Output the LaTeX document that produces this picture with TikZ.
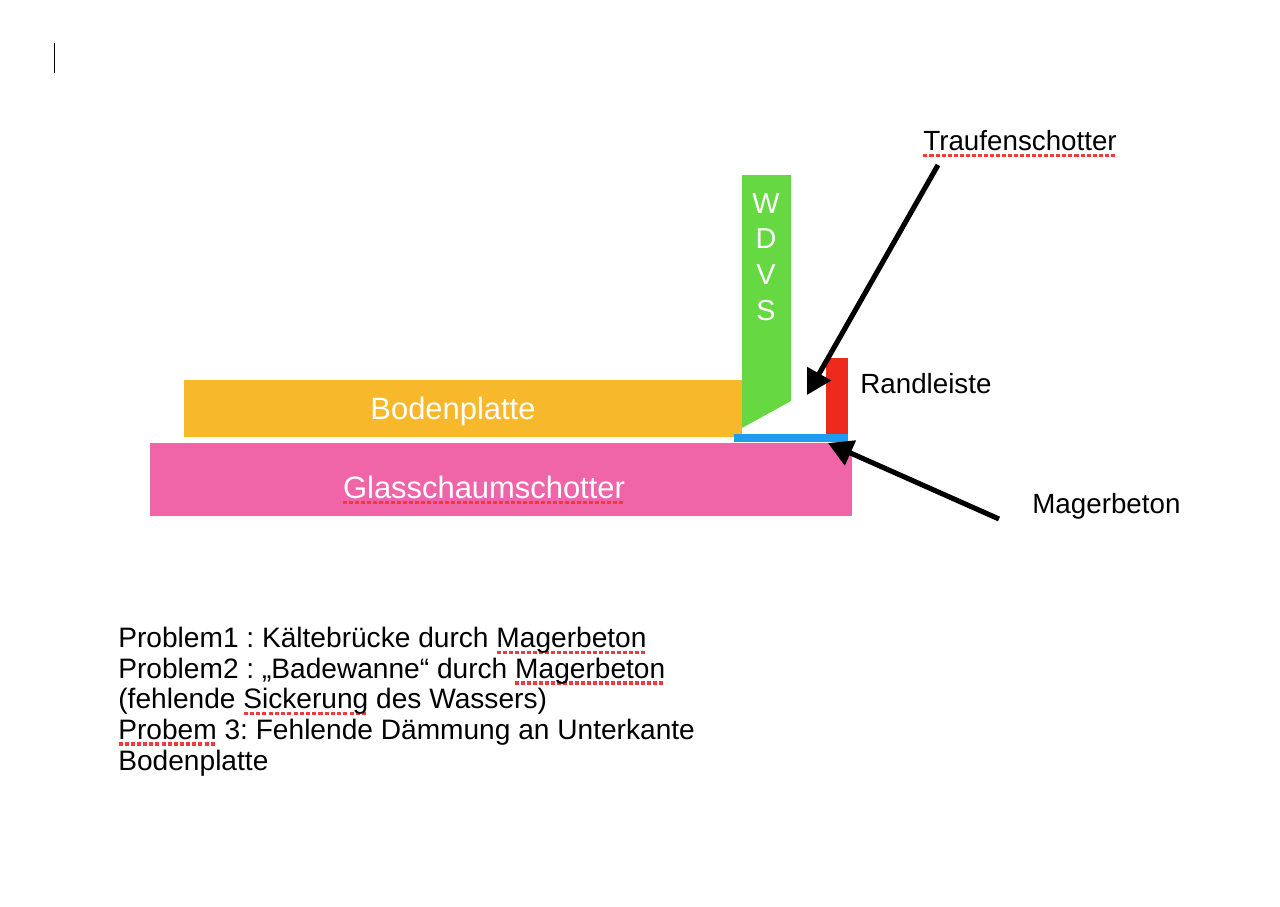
\documentclass[tikz,border=0pt]{standalone}
\usepackage{fontspec}
\setmainfont{Liberation Sans}
\usetikzlibrary{arrows.meta}
\frenchspacing

\definecolor{platte}{HTML}{F7B82C}
\definecolor{schotter}{HTML}{EF65A8}
\definecolor{wdvs}{HTML}{65D842}
\definecolor{leiste}{HTML}{EE2A1E}
\definecolor{beton}{HTML}{1F9CF0}
\definecolor{wavy}{HTML}{EE3B3B}

\newsavebox{\wavybox}
\newcommand{\wavyul}[1]{\sbox{\wavybox}{#1}\leavevmode\rlap{\color{wavy}\raisebox{-3.6pt}{\hbox to \wd\wavybox{\xleaders\hbox{\vrule width 2.3pt height 2pt\kern 1.1pt}\hfill}}}#1}

\tikzset{
  layer/.style={inner sep=0pt,outer sep=0pt,anchor=north west},
  inlayer/.style={text=white,font=\fontsize{17.6}{21}\selectfont},
  lbl/.style={font=\fontsize{15.8}{19}\selectfont,inner sep=0pt},
  pointer/.style={line width=2.9pt,-{Triangle[length=14pt,width=15pt]}},
}

\begin{document}
\begin{tikzpicture}[x=0.02cm,y=-0.02cm]
    \useasboundingbox (0,0) rectangle (1280,906);

    \draw[line width=1pt] (54.5,43) -- (54.5,73);

    \node[layer,fill=platte,minimum width=11.16cm,minimum height=1.14cm]   (bodenplatte) at (184,380) {};
    \node[layer,fill=schotter,minimum width=14.04cm,minimum height=1.46cm] (glasschaum)  at (150,443) {};
    \node[layer,fill=leiste,minimum width=0.44cm,minimum height=1.56cm]    (randleiste)  at (826,358) {};
    \node[layer,fill=beton,minimum width=2.3cm,minimum height=0.16cm]      (beton)       at (733.5,434) {};
    \fill[wdvs] (742,175) -- (791,175) -- (791,401) -- (742,428) -- cycle;

    \node[inlayer] (tboden) at (453,411) {Bodenplatte};
    \node[inlayer] (tglas)  at (484,490) {\wavyul{Glasschaumschotter}};
    \node[inlayer,align=center,font=\fontsize{16.4}{20.4}\selectfont] (twdvs) at (766,257) {W\\D\\V\\S};

    \node[lbl,anchor=west] (trauf)  at (923,144) {\wavyul{Traufenschotter}};
    \node[lbl,anchor=west] (trand)  at (860,384) {Randleiste};
    \node[lbl,anchor=west] (tmager) at (1032,506) {Magerbeton};

    \coordinate (traufstart) at (938,165);
    \coordinate (trauftip)   at (807,395);
    \coordinate (magerstart) at (999,519);
    \coordinate (magertip)   at (828,443);
    \draw[pointer] (traufstart) -- (trauftip);
    \draw[pointer] (magerstart) -- (magertip);

    \node[lbl,anchor=north west,align=left,font=\fontsize{16}{17.4}\selectfont] (problems) at (118,627)
      {Problem1 : Kältebrücke durch \wavyul{Magerbeton}\\
       Problem2 : „Badewanne“ durch \wavyul{Magerbeton}\\
       (fehlende \wavyul{Sickerung} des Wassers)\\
       \wavyul{Probem} 3: Fehlende Dämmung an Unterkante\\
       Bodenplatte};
\end{tikzpicture}
\end{document}
